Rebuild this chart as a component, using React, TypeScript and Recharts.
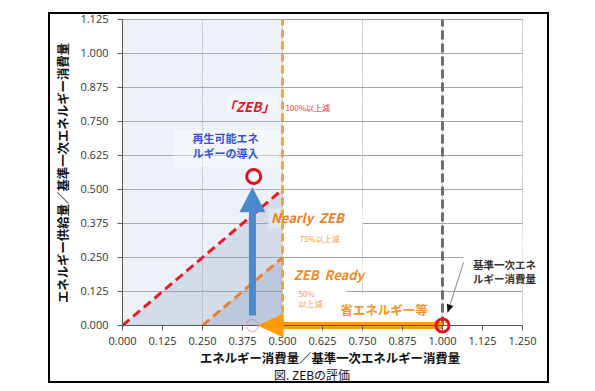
import React from 'react';
import {
  ComposedChart,
  XAxis,
  YAxis,
  CartesianGrid,
  Line,
  Area,
  ReferenceLine,
  ReferenceArea,
  ReferenceDot,
} from 'recharts';

const xTicks = [0, 0.125, 0.25, 0.375, 0.5, 0.625, 0.75, 0.875, 1.0, 1.125, 1.25];
const yTicks = [0, 0.125, 0.25, 0.375, 0.5, 0.625, 0.75, 0.875, 1.0, 1.125];

// 100% reduction line and 50% reduction line
const zebLine = [
  { x: 0, y: 0 },
  { x: 0.5, y: 0.5 },
];
const readyLine = [
  { x: 0.25, y: 0 },
  { x: 0.5, y: 0.25 },
];
const savingArrow = [
  { x: 1.0, y: 0 },
  { x: 0.5, y: 0 },
];
const renewArrow = [
  { x: 0.406, y: 0.037 },
  { x: 0.406, y: 0.42 },
];
const leaderLine = [
  { x: 1.066, y: 0.232 },
  { x: 1.016, y: 0.048 },
];

const nearlyZebX = 0.5;
const baseX = 1.0;
const basePoint = { x: 1.0, y: 0 };
const zebPoint = { x: 0.41, y: 0.548 };
const startPoint = { x: 0.406, y: 0 };

// light blue zone left of the Nearly ZEB line
const zebZone = { x1: 0, x2: 0.5, y1: 0, y2: 1.125 };

const labelBoxes = [
  { x1: 0.328, x2: 0.484, y1: 0.782, y2: 0.848, op: 0.35 },
  { x1: 0.16, x2: 0.49, y1: 0.583, y2: 0.719, op: 0.35 },
  { x1: 0.456, x2: 0.75, y1: 0.357, y2: 0.43, op: 1 },
  { x1: 0.5, x2: 0.7, y1: 0.265, y2: 0.35, op: 1 },
  { x1: 0.5, x2: 0.75, y1: 0.155, y2: 0.238, op: 1 },
  { x1: 0.5, x2: 0.7, y1: 0.03, y2: 0.15, op: 1 },
  { x1: 0.7, x2: 0.97, y1: 0.012, y2: 0.118, op: 1 },
  { x1: 1.066, x2: 1.25, y1: 0.13, y2: 0.37, op: 1 },
];

const JP = '"Noto Sans CJK JP", "Noto Sans", sans-serif';

const notes = [
  { x: 0.394, y: 0.808, text: '「ZEB」', color: '#e3161f', size: 13.5, bold: true, italic: true, anchor: 'middle' },
  { x: 0.509, y: 0.8, text: '100%以上減', color: '#e8303a', size: 8, anchor: 'start' },
  { x: 0.322, y: 0.69, text: '再生可能エネ', color: '#2f55d4', size: 11, bold: true, anchor: 'middle' },
  { x: 0.322, y: 0.634, text: 'ルギーの導入', color: '#2f55d4', size: 11, bold: true, anchor: 'middle' },
  { x: 0.578, y: 0.398, text: 'Nearly\u00a0\u00a0ZEB', color: '#f07c1e', size: 13, bold: true, italic: true, anchor: 'middle' },
  { x: 0.616, y: 0.321, text: '75%以上減', color: '#f2a04a', size: 8, anchor: 'middle' },
  { x: 0.645, y: 0.188, text: 'ZEB\u00a0\u00a0Ready', color: '#f08a1e', size: 13, bold: true, italic: true, anchor: 'middle' },
  { x: 0.55, y: 0.118, text: '50%', color: '#f2a04a', size: 8, anchor: 'start' },
  { x: 0.55, y: 0.081, text: '以上減', color: '#f2a04a', size: 8, anchor: 'start' },
  { x: 0.817, y: 0.059, text: '省エネルギー等', color: '#f7931e', size: 12.5, bold: true, anchor: 'middle' },
  { x: 1.194, y: 0.225, text: '基準一次エネ', color: '#333333', size: 10.5, bold: true, anchor: 'middle' },
  { x: 1.194, y: 0.173, text: 'ルギー消費量', color: '#333333', size: 10.5, bold: true, anchor: 'middle' },
];

const leftHead = (p: any) =>
  p.index === 1 ? (
    <polygon
      key="lh"
      points={`${p.cx + 1},${p.cy - 12} ${p.cx + 1},${p.cy + 12} ${p.cx - 25},${p.cy}`}
      fill="#ff9a00"
    />
  ) : (
    <g key={`l${p.index}`} />
  );

const upHead = (p: any) =>
  p.index === 1 ? (
    <polygon
      key="uh"
      points={`${p.cx - 13},${p.cy + 1} ${p.cx + 13},${p.cy + 1} ${p.cx},${p.cy - 24}`}
      fill="#4a88d0"
    />
  ) : (
    <g key={`u${p.index}`} />
  );

const leaderHead = (p: any) =>
  p.index === 1 ? (
    <polygon
      key="ah"
      points="0,0 -8,-3.5 -8,3.5"
      transform={`translate(${p.cx},${p.cy}) rotate(107.7)`}
      fill="#111"
    />
  ) : (
    <g key={`a${p.index}`} />
  );

const App: React.FC = () => {
  return (
    <div style={{ position: 'absolute', left: 0, top: 0, width: 595, height: 391, background: '#fff' }}>
      <div
        style={{
          position: 'absolute',
          left: 48,
          top: 12,
          width: 501,
          height: 371,
          border: '2px solid #000',
          boxSizing: 'border-box',
        }}
      />
      <div style={{ position: 'absolute', left: 0, top: 0 }}>
        <ComposedChart width={595} height={391} margin={{ top: 19.5, right: 72.5, left: 0.5, bottom: 0 }}>
          <CartesianGrid horizontal={false} stroke="#bdbdbd" strokeDasharray="2 1" fill="none" />
          <CartesianGrid vertical={false} stroke="#a3a3a3" fill="none" />
          <XAxis
            type="number"
            dataKey="x"
            domain={[0, 1.25]}
            ticks={xTicks}
            height={65.5}
            tickSize={5}
            tickMargin={7}
            tickFormatter={(v: number) => v.toFixed(3)}
            stroke="#595959"
            tick={{ fill: '#333', fontSize: 11, fontFamily: 'Open Sans' }}
          />
          <YAxis
            type="number"
            dataKey="y"
            domain={[0, 1.125]}
            ticks={yTicks}
            width={122}
            tickSize={5}
            tickMargin={9}
            tickFormatter={(v: number) => v.toFixed(3)}
            stroke="#595959"
            tick={{ fill: '#333', fontSize: 11, fontFamily: 'Open Sans' }}
          />
          <ReferenceArea
            x1={zebZone.x1}
            x2={zebZone.x2}
            y1={zebZone.y1}
            y2={zebZone.y2}
            fill="#b4c8e6"
            fillOpacity={0.24}
            stroke="none"
          />
          {labelBoxes.map((b, i) => (
            <ReferenceArea key={`box${i}`} x1={b.x1} x2={b.x2} y1={b.y1} y2={b.y2} fill="#ffffff" fillOpacity={b.op} stroke="none" />
          ))}
          <Area
            data={zebLine}
            dataKey="y"
            type="linear"
            baseValue={0}
            stroke="none"
            fill="#7891b4"
            fillOpacity={0.22}
            isAnimationActive={false}
            activeDot={false}
          />
          <Area
            data={readyLine}
            dataKey="y"
            type="linear"
            baseValue={0}
            stroke="none"
            fill="#7891b4"
            fillOpacity={0.25}
            isAnimationActive={false}
            activeDot={false}
          />
          <ReferenceLine x={nearlyZebX} stroke="#f5a432" strokeWidth={3} strokeDasharray="8 4" />
          <ReferenceLine x={baseX} stroke="#6e6e6e" strokeWidth={3} strokeDasharray="9 4" />
          <Line
            data={zebLine}
            dataKey="y"
            type="linear"
            stroke="#e31c25"
            strokeWidth={3}
            strokeDasharray="9 5"
            dot={false}
            activeDot={false}
            isAnimationActive={false}
          />
          <Line
            data={readyLine}
            dataKey="y"
            type="linear"
            stroke="#ed7d31"
            strokeWidth={3}
            strokeDasharray="9 5"
            dot={false}
            activeDot={false}
            isAnimationActive={false}
          />
          <Line
            data={savingArrow}
            dataKey="y"
            type="linear"
            stroke="#ff9a00"
            strokeWidth={7}
            dot={leftHead}
            activeDot={false}
            isAnimationActive={false}
          />
          <Line
            data={renewArrow}
            dataKey="y"
            type="linear"
            stroke="#4a88d0"
            strokeWidth={7}
            dot={upHead}
            activeDot={false}
            isAnimationActive={false}
          />
          <Line
            data={leaderLine}
            dataKey="y"
            type="linear"
            stroke="#8a8a8a"
            strokeWidth={1}
            dot={leaderHead}
            activeDot={false}
            isAnimationActive={false}
          />
          <ReferenceDot x={startPoint.x} y={startPoint.y} r={6} fill="none" stroke="#e0707e" strokeWidth={1} strokeDasharray="2 1" />
          <ReferenceDot x={basePoint.x} y={basePoint.y} r={6.5} fill="none" stroke="#e0101e" strokeWidth={3} />
          <ReferenceDot x={zebPoint.x} y={zebPoint.y} r={7} fill="#fff" stroke="#e0101e" strokeWidth={3} />
          {notes.map((n, i) => (
            <ReferenceDot
              key={`note${i}`}
              x={n.x}
              y={n.y}
              r={0}
              shape={(p: any) => (
                <text
                  x={p.cx}
                  y={p.cy}
                  textAnchor={n.anchor}
                  dominantBaseline="central"
                  fill={n.color}
                  fontSize={n.size}
                  fontWeight={n.bold ? 700 : 400}
                  fontStyle={n.italic ? 'italic' : 'normal'}
                  fontFamily={JP}
                >
                  {n.text}
                </text>
              )}
            />
          ))}
        </ComposedChart>
      </div>
      <div
        style={{
          position: 'absolute',
          left: 63,
          top: 173,
          transform: 'translate(-50%, -50%) rotate(-90deg)',
          whiteSpace: 'nowrap',
          fontFamily: JP,
          fontWeight: 700,
          fontSize: 12.4,
          color: '#111',
          lineHeight: 1,
        }}
      >
        エネルギー供給量／基準一次エネルギー消費量
      </div>
      <div
        style={{
          position: 'absolute',
          left: 330,
          top: 358,
          transform: 'translate(-50%, -50%)',
          whiteSpace: 'nowrap',
          fontFamily: JP,
          fontWeight: 700,
          fontSize: 12.4,
          color: '#111',
          lineHeight: 1,
        }}
      >
        エネルギー消費量／基準一次エネルギー消費量
      </div>
      <div
        style={{
          position: 'absolute',
          left: 312,
          top: 375,
          transform: 'translate(-50%, -50%)',
          whiteSpace: 'nowrap',
          fontFamily: JP,
          fontSize: 12,
          color: '#111',
          lineHeight: 1,
        }}
      >
        図. ZEBの評価
      </div>
    </div>
  );
};

export default App;
